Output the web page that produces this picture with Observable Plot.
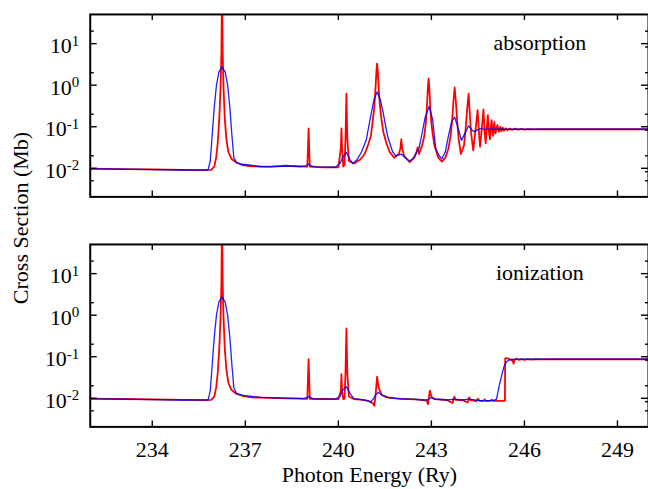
<!DOCTYPE html>
<html>
<head>
<meta charset="utf-8">
<script src="https://cdn.jsdelivr.net/npm/d3@7"></script>
<script src="https://cdn.jsdelivr.net/npm/@observablehq/plot@0.6"></script>
<style>
  html, body { margin: 0; padding: 0; overflow: hidden; background: #fff; }
  #wrap { position: relative; width: 648px; height: 489px; overflow: hidden; background: #fff; }
  #wrap > svg { position: absolute; left: 0; }
</style>
</head>
<body>
<div id="wrap"></div>
<script>
// ---------- data ----------
const xTicks = [234, 237, 240, 243, 246, 249];
const yMajor = [10, 1, 0.1, 0.01];
const yTickLabels = ["10^1", "10^0", "10^-1", "10^-2"];
const yMinorLeft = [20, 2, 0.2, 0.02, 0.005];
const yMinorRight = [20, 8.3, 2, 0.83, 0.2, 0.083, 0.02, 0.0083, 0.005];
const panelLabels = ["absorption", "ionization"];
const xTitle = "Photon Energy (Ry)";
const yTitle = "Cross Section (Mb)";

// absorption, high resolution (red)  [energy Ry, cross section Mb]
const absorptionRed = [
  [232.0,0.0098],[232.5,0.0097],[233.0,0.0096],[234.0,0.0094],[235.0,0.0092],[235.7,0.0090],
  [235.9,0.0092],[236.0,0.011],[236.06,0.018],[236.11,0.04],[236.16,0.15],[236.2,0.8],[236.23,6],
  [236.25,300],[236.27,6],[236.3,0.8],[236.34,0.15],[236.39,0.05],[236.45,0.025],[236.55,0.017],
  [236.7,0.014],[236.9,0.012],
  [237.2,0.0112],[237.8,0.0108],[238.3,0.0115],[238.7,0.0112],[239.0,0.011],[239.02,0.03],
  [239.04,0.091],[239.06,0.03],[239.08,0.011],[239.5,0.0105],[240.0,0.0105],[240.08,0.03],
  [240.10,0.091],[240.12,0.03],[240.16,0.011],[240.2,0.012],[240.23,0.05],[240.26,0.63],
  [240.29,0.05],[240.34,0.015],[240.5,0.013],[240.7,0.016],[240.85,0.022],[240.95,0.035],
  [241.05,0.06],[241.11,0.14],[241.16,0.3],[241.19,0.66],[241.21,1.2],[241.23,2.3],[241.25,3.3],
  [241.27,2.3],[241.29,1.2],[241.31,0.66],[241.34,0.33],[241.39,0.15],[241.45,0.075],[241.55,0.04],
  [241.65,0.025],[241.8,0.018],[241.95,0.022],[242.0,0.03],[242.03,0.05],[242.06,0.03],[242.12,0.02],
  [242.3,0.014],[242.45,0.018],[242.52,0.025],[242.56,0.032],[242.6,0.022],[242.7,0.035],
  [242.77,0.06],[242.82,0.12],[242.85,0.25],[242.87,0.5],[242.89,0.95],[242.91,1.45],[242.93,0.95],
  [242.95,0.5],[242.97,0.25],[243.0,0.12],[243.05,0.06],[243.1,0.035],[243.15,0.027],
  [243.22,0.018],[243.34,0.0145],[243.45,0.018],[243.55,0.03],[243.62,0.06],[243.67,0.14],
  [243.71,0.4],[243.75,0.88],[243.79,0.4],[243.83,0.14],[243.88,0.05],[243.95,0.022],
  [244.05,0.035],[244.1,0.08],[244.15,0.25],[244.20,0.63],[244.24,0.2],[244.28,0.07],
  [244.35,0.027],[244.42,0.08],[244.49,0.25],[244.54,0.06],[244.57,0.033],[244.63,0.1],
  [244.68,0.26],[244.72,0.07],[244.75,0.04],[244.79,0.1],[244.82,0.19],[244.86,0.07],
  [244.89,0.05],[244.92,0.1],[244.94,0.145],[244.97,0.075],[244.99,0.06],[245.01,0.1],
  [245.03,0.13],[245.05,0.08],[245.07,0.069],[245.10,0.095],[245.13,0.11],[245.16,0.08],
  [245.18,0.076],[245.22,0.1],[245.26,0.078],[245.30,0.095],[245.34,0.08],[245.4,0.092],
  [245.45,0.082],[245.52,0.09],[245.6,0.084],[245.7,0.09],[245.8,0.085],[245.9,0.089],
  [246.0,0.085],[246.1,0.088],[246.3,0.086],[246.5,0.087],[247.0,0.087],[248.0,0.087],[250.0,0.087]
];

// absorption, convolved (blue)
const absorptionBlue = [
  [232.0,0.0097],[233.0,0.0095],[234.0,0.0093],[235.0,0.0091],[235.8,0.0092],[235.87,0.015],
  [235.93,0.06],[236.0,0.3],[236.07,1.0],[236.15,2.1],[236.25,2.75],[236.35,2.1],[236.43,1.0],
  [236.5,0.3],[236.57,0.06],[236.63,0.018],[236.72,0.0135],[236.9,0.0125],[237.5,0.011],
  [238.3,0.0113],[238.8,0.011],[238.95,0.0115],[239.04,0.0125],[239.15,0.0112],[239.3,0.0108],
  [239.9,0.0106],[240.05,0.013],[240.15,0.019],[240.26,0.024],[240.38,0.016],[240.47,0.013],
  [240.6,0.016],[240.75,0.025],[240.9,0.048],[241.06,0.21],[241.15,0.45],[241.25,0.69],
  [241.35,0.45],[241.43,0.25],[241.52,0.11],[241.6,0.055],[241.75,0.025],[241.85,0.02],
  [241.95,0.021],[242.03,0.022],[242.15,0.018],[242.29,0.015],[242.4,0.017],[242.5,0.022],
  [242.6,0.03],[242.7,0.07],[242.8,0.17],[242.93,0.31],[243.04,0.15],[243.14,0.03],
  [243.25,0.02],[243.34,0.017],[243.45,0.025],[243.55,0.06],[243.65,0.13],[243.75,0.17],
  [243.85,0.1],[243.97,0.047],[244.08,0.07],[244.2,0.105],[244.3,0.085],[244.38,0.076],
  [244.5,0.085],[244.6,0.091],[244.7,0.086],[244.85,0.089],[245.0,0.087],[246.0,0.087],[250.0,0.087]
];

// ionization, high resolution (red)
const ionizationRed = [
  [232.0,0.0098],[232.5,0.0097],[233.0,0.0096],[234.0,0.0094],[235.0,0.0092],[235.7,0.0090],
  [235.9,0.0092],[236.0,0.011],[236.06,0.018],[236.11,0.04],[236.16,0.15],[236.2,0.8],[236.23,6],
  [236.25,300],[236.27,6],[236.3,0.8],[236.34,0.15],[236.39,0.05],[236.45,0.024],[236.55,0.016],
  [236.7,0.013],[236.9,0.0115],
  [237.2,0.0105],[237.8,0.0102],[238.3,0.0100],[238.8,0.0098],[239.0,0.0097],[239.02,0.03],
  [239.04,0.087],[239.06,0.03],[239.08,0.0097],[239.5,0.0096],[240.0,0.0095],[240.08,0.015],
  [240.10,0.038],[240.12,0.015],[240.16,0.0096],[240.2,0.0098],[240.23,0.04],[240.26,0.48],
  [240.29,0.04],[240.34,0.011],[240.5,0.0096],[240.8,0.0092],[241.0,0.0085],[241.12,0.0075],
  [241.16,0.0066],[241.2,0.012],[241.25,0.033],[241.3,0.018],[241.4,0.012],[241.6,0.0105],
  [242.0,0.0097],[242.5,0.0094],[242.85,0.0088],[242.89,0.0072],[242.95,0.0153],[243.0,0.011],
  [243.1,0.0095],[243.5,0.0091],[243.68,0.0077],[243.74,0.011],[243.78,0.0092],[244.0,0.009],
  [244.17,0.0079],[244.22,0.0105],[244.26,0.009],[244.45,0.0085],[244.5,0.0098],[244.55,0.0087],
  [244.68,0.0086],[244.72,0.0094],[244.76,0.0086],[244.9,0.0087],[244.95,0.0092],[245.0,0.0087],
  [245.37,0.0087],[245.38,0.091],[245.45,0.092],[245.55,0.085],[245.62,0.08],[245.65,0.068],
  [245.68,0.085],[245.75,0.09],[245.82,0.084],[245.9,0.088],[246.0,0.084],[246.1,0.088],
  [246.2,0.085],[246.35,0.087],[246.6,0.086],[247.0,0.088],[248.0,0.087],[250.0,0.087]
];

// ionization, convolved (blue)
const ionizationBlue = [
  [232.0,0.0097],[233.0,0.0095],[234.0,0.0093],[235.0,0.0091],[235.8,0.0092],[235.87,0.015],
  [235.93,0.06],[236.0,0.3],[236.07,1.0],[236.15,2.1],[236.25,2.75],[236.35,2.1],[236.43,1.0],
  [236.5,0.3],[236.57,0.06],[236.63,0.018],[236.72,0.013],[237.0,0.0115],[237.5,0.0105],
  [238.3,0.0101],[238.9,0.0098],[239.04,0.011],[239.2,0.0097],[239.9,0.0095],[240.05,0.011],
  [240.15,0.016],[240.26,0.019],[240.38,0.013],[240.5,0.0098],[240.8,0.0092],[240.95,0.0087],
  [241.03,0.008],[241.12,0.0095],[241.2,0.012],[241.29,0.014],[241.4,0.012],[241.55,0.0105],
  [241.8,0.0099],[242.3,0.0095],[242.85,0.0091],[243.0,0.0104],[243.15,0.0095],[243.5,0.0091],
  [243.75,0.0096],[244.0,0.0091],[244.22,0.0096],[244.5,0.0089],[245.0,0.0088],[245.1,0.0095],
  [245.18,0.019],[245.27,0.036],[245.34,0.058],[245.42,0.075],[245.5,0.083],[245.6,0.087],
  [245.7,0.085],[245.85,0.088],[246.0,0.087],[250.0,0.087]
];

// ---------- drawing ----------
const FONT = "'Liberation Serif', 'Times New Roman', serif";
const W = 650, ML = 90, MT = 14, INNER_H = 183;
const INNER_W = W - ML;

function makePanel(red, blue, label, isBottom) {
  const height = isBottom ? 259 : 230;
  const marks = [
    Plot.line(red, {x: d => d[0], y: d => d[1], stroke: "#ff0000", strokeWidth: 1.8, clip: true}),
    Plot.line(blue, {x: d => d[0], y: d => d[1], stroke: "#0000ff", strokeWidth: 1.3, strokeOpacity: 0.88, clip: true}),
    // inward ticks
    Plot.tickY(yMajor, {y: d => d, insetRight: INNER_W - 7, strokeWidth: 1.4}),
    Plot.tickY(yMinorLeft, {y: d => d, insetRight: INNER_W - 4, strokeWidth: 1.4}),
    Plot.tickY(yMajor, {y: d => d, insetLeft: INNER_W - 7, strokeWidth: 1.4}),
    Plot.tickY(yMinorRight, {y: d => d, insetLeft: INNER_W - 3, strokeWidth: 1.4}),
    Plot.tickX(xTicks, {x: d => d, insetBottom: INNER_H - 6, strokeWidth: 1.4}),
    Plot.tickX(xTicks, {x: d => d, insetTop: INNER_H - 6, strokeWidth: 1.4}),
    Plot.axisY(yMajor, {tickSize: 0, tickPadding: 11, dy: 2.5, fontSize: 22, label: null,
      tickFormat: d => yTickLabels[yMajor.indexOf(d)]}),
    Plot.text([label], {frameAnchor: "top", dx: 171, dy: 36, lineAnchor: "bottom", text: d => d,
      fontSize: 22, fill: "#000"}),
    Plot.frame({stroke: "#000", strokeWidth: 2})
  ];
  if (isBottom) {
    marks.push(Plot.axisX(xTicks, {tickSize: 0, tickPadding: 15, fontSize: 22, label: null}));
    marks.push(Plot.text([xTitle], {frameAnchor: "bottom", dy: 55, lineAnchor: "bottom", text: d => d,
      fontSize: 22, fill: "#000"}));
  }
  const svg = Plot.plot({
    width: W, height,
    marginLeft: ML, marginRight: 0, marginTop: MT, marginBottom: height - MT - INNER_H,
    style: {fontFamily: FONT, fontSize: "22px", background: "transparent", color: "#000", overflow: "visible"},
    x: {domain: [232, 250], axis: isBottom ? undefined : null},
    y: {type: "log", domain: [0.00205, 50.4]},
    marks
  });
  // superscript exponents on y tick labels
  svg.querySelectorAll('g[aria-label="y-axis tick label"] text').forEach(t => {
    const s = t.textContent;
    const [base, exp] = s.split("^");
    t.textContent = base;
    const ts = document.createElementNS("http://www.w3.org/2000/svg", "tspan");
    ts.setAttribute("dy", "-0.5em");
    ts.setAttribute("font-size", "15px");
    ts.textContent = exp;
    t.appendChild(ts);
  });
  return svg;
}

const wrap = document.getElementById("wrap");
const topPanel = makePanel(absorptionRed, absorptionBlue, panelLabels[0], false);
topPanel.style.top = "0px";
wrap.appendChild(topPanel);
const bottomPanel = makePanel(ionizationRed, ionizationBlue, panelLabels[1], true);
bottomPanel.style.top = "230px";
wrap.appendChild(bottomPanel);

// rotated y-axis title spanning both panels
const ov = d3.create("svg").attr("width", 60).attr("height", 489).style("top", "0px");
ov.append("text")
  .attr("transform", "translate(28,218) rotate(-90)")
  .attr("text-anchor", "middle")
  .attr("font-family", FONT)
  .attr("font-size", 22)
  .attr("fill", "#000")
  .text(yTitle);
wrap.appendChild(ov.node());
</script>
</body>
</html>
